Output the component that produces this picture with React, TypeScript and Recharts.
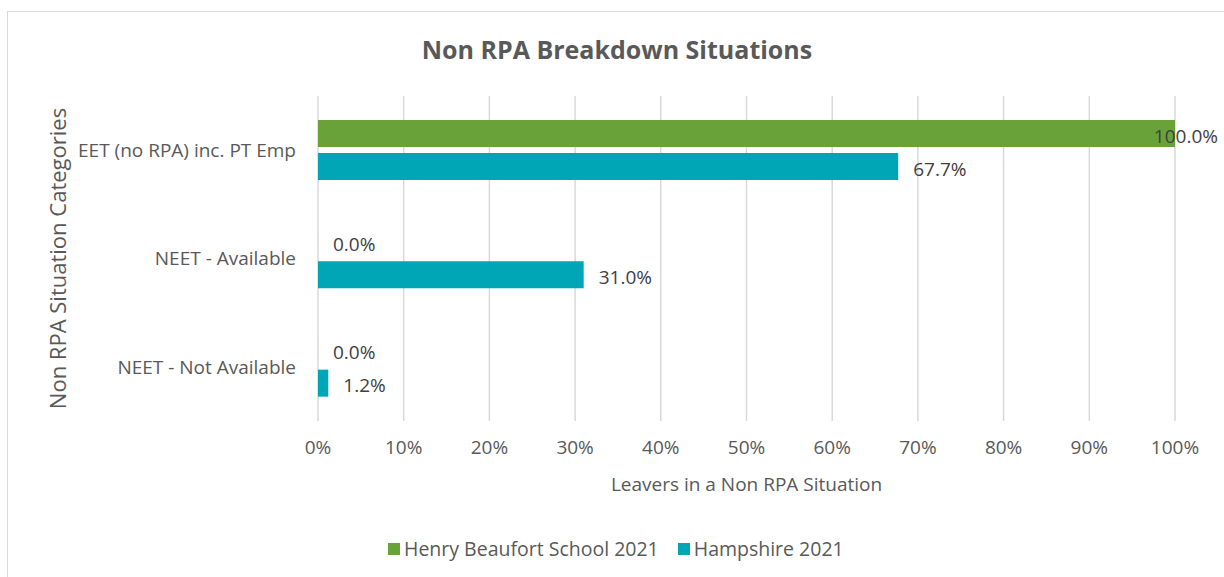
import React from 'react';
import { BarChart, Bar, XAxis, YAxis, CartesianGrid, Legend, LabelList, Label } from 'recharts';

const categories = ['EET (no RPA) inc. PT Emp', 'NEET - Available', 'NEET - Not Available'];
const henryBeaufort2021 = [100.0, 0.0, 0.0];
const hampshire2021 = [67.7, 31.0, 1.2];
const xTicks = [0, 10, 20, 30, 40, 50, 60, 70, 80, 90, 100];

const seriesNames = ['Henry Beaufort School 2021', 'Hampshire 2021'];
const GREEN = '#6AA23A';
const TEAL = '#00A6B5';
const FONT = '"Open Sans", "Noto Sans", sans-serif';
const AXIS_TEXT = '#595959';

const chartData = categories.map((name, i) => ({
    name,
    henry: henryBeaufort2021[i],
    hampshire: hampshire2021[i]
}));

const ValueLabel = (props: any) => {
    const { x, y, width, height, value } = props;
    const text = `${Number(value).toFixed(1)}%`;
    let tx = Number(x) + Number(width) + 15;
    let anchor: 'start' | 'end' = 'start';
    // keep the label inside the chart area like Excel does
    if (tx + text.length * 10.5 > 1222) {
        tx = 1218;
        anchor = 'end';
    }
    return (
        <text
            x={tx}
            y={Number(y) + Number(height) / 2 + 2}
            textAnchor={anchor}
            dominantBaseline="central"
            fill="#404040"
            fontSize={19}
            fontFamily={FONT}
        >
            {text}
        </text>
    );
};

const LegendContent = () => (
    <div
        style={{
            display: 'flex',
            justifyContent: 'flex-start',
            alignItems: 'center',
            fontFamily: FONT,
            fontSize: 19.5,
            color: AXIS_TEXT,
            paddingLeft: 388,
            paddingTop: 2
        }}
    >
        {seriesNames.map((n, i) => (
            <div key={n} style={{ display: 'flex', alignItems: 'center', marginRight: i === 0 ? 19 : 0 }}>
                <span style={{ width: 12, height: 12, background: i === 0 ? GREEN : TEAL, marginRight: 4, display: 'inline-block' }} />
                <span>{n}</span>
            </div>
        ))}
    </div>
);

const App: React.FC = () => {
    return (
        <div style={{ position: 'fixed', left: 0, top: 0, width: 1224, height: 577, overflow: 'hidden', background: '#fff' }}>
            <div style={{ position: 'absolute', left: 7, top: 11, width: 1240, height: 600, border: '1px solid #d9d9d9' }} />
            <div
                style={{
                    position: 'absolute',
                    left: 0,
                    width: 1234,
                    top: 32,
                    textAlign: 'center',
                    fontFamily: FONT,
                    fontWeight: 700,
                    fontSize: 25,
                    color: AXIS_TEXT
                }}
            >
                Non RPA Breakdown Situations
            </div>
            <div style={{ position: 'absolute', left: 0, top: 0 }}>
                <BarChart
                    width={1224}
                    height={577}
                    data={chartData}
                    layout="vertical"
                    margin={{ top: 96, right: 49, bottom: 14, left: 0 }}
                    barSize={27}
                    barGap={6}
                >
                    <CartesianGrid horizontal={false} vertical stroke="#d9d9d9" strokeWidth={1.5} />
                    <XAxis
                        type="number"
                        domain={[0, 100]}
                        ticks={xTicks}
                        tickFormatter={(v: number) => `${v}%`}
                        axisLine={false}
                        tickLine={false}
                        tickSize={0}
                        tickMargin={20}
                        height={112}
                        tick={{ fill: AXIS_TEXT, fontSize: 19, fontFamily: FONT }}
                    >
                        <Label
                            content={(p: any) => (
                                <text
                                    x={p.viewBox.x + p.viewBox.width / 2}
                                    y={484}
                                    textAnchor="middle"
                                    dominantBaseline="central"
                                    fill={AXIS_TEXT}
                                    fontSize={19}
                                    fontFamily={FONT}
                                >
                                    Leavers in a Non RPA Situation
                                </text>
                            )}
                        />
                    </XAxis>
                    <YAxis
                        type="category"
                        dataKey="name"
                        width={318}
                        axisLine={false}
                        tickLine={false}
                        tickSize={0}
                        tickMargin={22}
                        tick={{ fill: AXIS_TEXT, fontSize: 19, fontFamily: FONT }}
                    >
                        <Label
                            content={(p: any) => {
                                const cy = p.viewBox.y + p.viewBox.height / 2;
                                return (
                                    <text
                                        x={57}
                                        y={cy}
                                        transform={`rotate(-90 57 ${cy})`}
                                        textAnchor="middle"
                                        dominantBaseline="central"
                                        fill={AXIS_TEXT}
                                        fontSize={22}
                                        fontFamily={FONT}
                                    >
                                        Non RPA Situation Categories
                                    </text>
                                );
                            }}
                        />
                    </YAxis>
                    <Legend verticalAlign="bottom" height={30} content={<LegendContent />} />
                    <Bar dataKey="henry" name={seriesNames[0]} fill={GREEN} minPointSize={0.01} isAnimationActive={false}>
                        <LabelList dataKey="henry" content={<ValueLabel />} />
                    </Bar>
                    <Bar dataKey="hampshire" name={seriesNames[1]} fill={TEAL} isAnimationActive={false}>
                        <LabelList dataKey="hampshire" content={<ValueLabel />} />
                    </Bar>
                </BarChart>
            </div>
        </div>
    );
};

export default App;
